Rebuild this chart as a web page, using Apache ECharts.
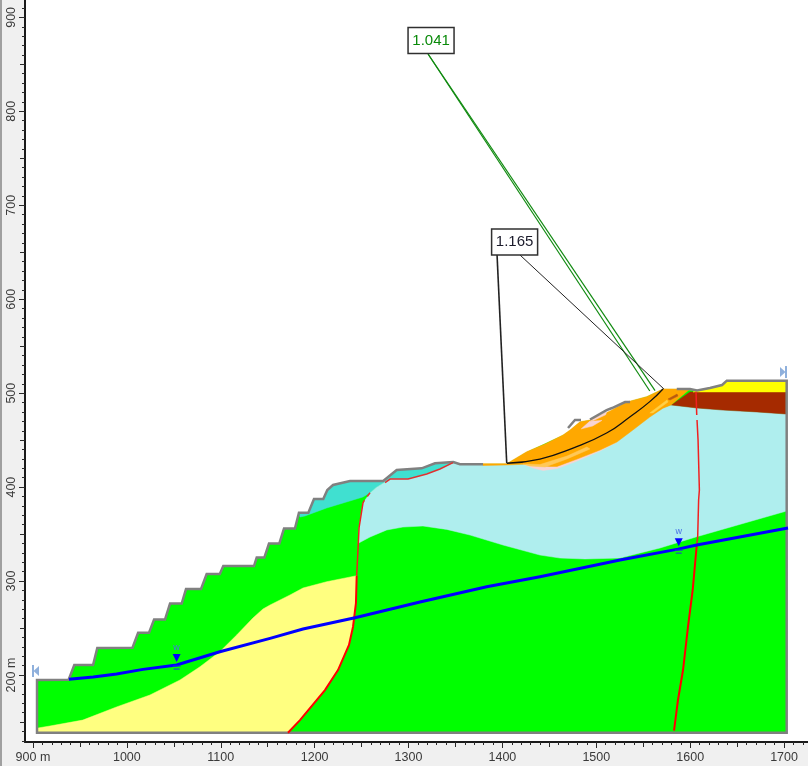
<!DOCTYPE html>
<html>
<head>
<meta charset="utf-8">
<title>slope</title>
<style>
  html, body {margin: 0; padding: 0; background: #f0f0f0;}
  #main {width: 808px; height: 766px;}
</style>
<script src="https://cdn.jsdelivr.net/npm/echarts@6/dist/echarts.min.js"></script>
</head>
<body>
<div id="main"></div>
<script>
// axis ticks (metres)
var xMajorTicks = [900, 1000, 1100, 1200, 1300, 1400, 1500, 1600, 1700];
var yMajorTicks = [200, 300, 400, 500, 600, 700, 800, 900];
var xMidTicks = [950, 1050, 1150, 1250, 1350, 1450, 1550, 1650];
var yMidTicks = [150, 250, 350, 450, 550, 650, 750, 850];

// material zones [x, y]
var terrain = [[904.3,138.6],[904.3,194.7],[938,195],[944,210.6],[964,210.6],[968.5,228.7],[1006,229],[1012,245],[1023.6,245],[1029,259],[1040.6,259],[1046,276],[1058.4,276],[1063,291.5],[1079,291.5],[1085,307.5],[1099,307.5],[1102.7,316],[1135.4,316],[1138.3,325],[1146.4,325],[1151.4,340],[1162.4,340],[1167.4,356],[1179,356],[1183.3,372.8],[1193.3,372.8],[1199.3,387.4],[1209.2,387.4],[1213.5,397],[1219.6,402.3],[1237.7,406.5],[1273,406.5],[1287.4,418.2],[1314,420],[1328.2,425.3],[1347.7,426.7],[1354.8,424.3],[1404.6,424.3],[1425.9,437],[1464.6,455],[1472,460],[1482.7,469],[1493.3,471],[1514.6,480],[1532.4,490],[1553.7,496],[1571,504],[1586,504],[1596.6,503.4],[1607.3,502.6],[1621,505.8],[1633.6,508.7],[1639.3,513.3],[1702.8,513.3],[1702.8,138.6]];
var lowerSand = [[905.3,143.6],[918,145.7],[953,152],[989,166],[1024.6,178.7],[1056.6,194.7],[1077.9,208.8],[1099,224.8],[1117,242.6],[1134.3,260.7],[1145,270.3],[1152.5,274.5],[1173.8,285.2],[1187.6,292.6],[1212.8,299.3],[1244.8,305.7],[1244,276.6],[1240.9,251.4],[1236.6,232],[1224.9,205.3],[1211,184],[1184.4,152],[1171.6,138.6],[905.3,138.6]];
var tealZone = [[1184.4,368.2],[1183.3,372.8],[1193.3,372.8],[1199.3,387.4],[1209.2,387.4],[1213.5,397],[1219.6,402.3],[1237.7,406.5],[1273,406.5],[1287.4,418.2],[1314,420],[1328.2,425.3],[1347.7,426.7],[1333.5,419.3],[1319.4,414],[1299.5,408.6],[1280.3,408.6],[1265.4,399.4],[1259,394],[1251.5,389.5],[1212.8,377.8],[1189.7,369.3]];
var cyanZone = [[1246.5,340.2],[1247.3,356.5],[1251.5,383.1],[1259,393.7],[1265.4,399.4],[1280.3,408.6],[1299.5,408.6],[1319.4,414],[1333.5,419.3],[1347.4,426],[1354.8,423.5],[1404.9,424.5],[1440,430],[1480,440],[1520,460],[1557,480],[1579.6,487.4],[1607.3,484.2],[1635,482],[1671.2,480],[1702.8,477.8],[1702.8,374.6],[1607,347.2],[1567.9,335.2],[1546.6,329.9],[1525.3,324.5],[1488,323.5],[1461.4,324.5],[1440,327.7],[1400.6,338.4],[1365.5,349],[1340.7,355],[1315.4,358.6],[1294,357.5],[1276.8,354.4],[1259,346.9]];
var brownZone = [[1580,487.4],[1599.8,501.3],[1702,501.3],[1702,477.8],[1671.2,480],[1635,482],[1607.3,484.2]];
var topFill = [[1603,501.3],[1607.3,502.6],[1621,505.6],[1634,508.7],[1639,513],[1702,513],[1702,501.3]];

// failed mass
var orangeMass = [[1379.3,425],[1404.6,425],[1425.9,437.7],[1445.4,445.9],[1464.6,455.5],[1472,460.8],[1482.7,469.6],[1493.3,471.4],[1514.6,481],[1532.4,490.6],[1553.7,496.3],[1571,504.5],[1599.8,504.4],[1579.6,487.4],[1571,484],[1557,474.6],[1539,460.8],[1522,448],[1504,439.5],[1479.5,429.8],[1458.2,422],[1450.7,422],[1422,424.3],[1404.9,423.6],[1379.3,423]];
var pinkBelow = [[1422,424.5],[1432.6,420.4],[1443.3,417.7],[1458.2,419.8],[1479.5,427.8],[1504,438.4],[1522,448],[1504,442],[1470,428]];
var pinkPatchA = [[1484,462],[1493,470],[1506,471],[1496,465]];
var pinkPatchB = [[1494,471],[1511,480],[1510,477],[1497,471]];
var paleStreakA = [[1422,424.6],[1440,424],[1468.8,433],[1490,442.7],[1493.3,440.6],[1468.8,430],[1445.4,421.4],[1429.4,422.5]];
var paleStreakB = [[1557,478.9],[1575.3,492.7],[1576.4,490.6],[1560.4,478.9]];
var brownFleck = [[1576.4,493.8],[1586,499.1],[1587,497],[1578.5,492.7]];

// lines
var outlineMain = [[1585.7,504.5],[1599.8,504.4],[1607.3,502.8],[1621,505.6],[1634,508.7],[1639,513.3],[1702.8,513.3],[1702.8,138.6],[904.3,138.6],[904.3,194.7],[938,195],[944,210.6],[964,210.6],[968.5,228.7],[1006,229],[1012,245],[1023.6,245],[1029,259],[1040.6,259],[1046,276],[1058.4,276],[1063,291.5],[1079,291.5],[1085,307.5],[1099,307.5],[1102.7,316],[1135.4,316],[1138.3,325],[1146.4,325],[1151.4,340],[1162.4,340],[1167.4,356],[1179,356],[1183.3,372.8],[1193.3,372.8],[1199.3,387.4],[1209.2,387.4],[1213.5,397],[1219.6,402.3],[1237.7,406.5],[1273,406.5],[1287.4,418.2],[1314,420],[1328.2,425.3],[1347.7,426.7],[1354.8,424.3],[1379.3,424.3]];
var outlineA = [[1469.9,462.9],[1477.3,471.4],[1483.7,471.4]];
var outlineB = [[1493.3,472],[1511,482],[1516.8,484.2],[1530.6,490.6],[1536,490.6]];
var redLeftLower = [[1171.6,138.6],[1184.4,152],[1211,184],[1224.9,205.3],[1236.6,232],[1240.9,251.4],[1244,276.6],[1244.8,305.7]];
var redLeftMiddle = [[1244.8,305.7],[1246.5,340.2],[1247.3,356.5],[1251.5,383.1],[1253,386]];
var redLeftUpper = [[1259,394],[1256,390]];
var redTop = [[1275,404.7],[1280.3,408.6],[1299.5,408.6],[1319.4,414],[1333.5,419.3],[1347.4,426]];
var redRightLower = [[1582.8,140.7],[1587,173.4],[1592.4,205.3],[1597.7,251.4],[1602.7,290.5],[1607,338.4]];
var redRightMiddle = [[1607,338.4],[1608,347.2],[1609,386.3],[1609.8,397],[1608.4,450],[1607.3,471.4]];
var redRightUpper = [[1607,476.8],[1606.2,501.6]];
var waterTable = [[938.3,195.4],[964.2,197.9],[989,201],[1017.2,206],[1053,210.6],[1099,224.8],[1152.5,239],[1187.6,249],[1243,261],[1312.2,277.7],[1383.3,294],[1440,304.6],[1525.3,322.4],[1587,334],[1607,338.4],[1704.2,356.5]];
var slipSurface = [[1404.6,425.4],[1440,429.9],[1475.2,441.6],[1511,457.6],[1536,475],[1557,491],[1571,504.5]];

// factor of safety callouts
var greenLeaderA = [[1320.8,861],[1557,502.3]];
var greenLeaderB = [[1320.8,861],[1562.6,502.8]];
var blackLeaderA = [[1394.3,647],[1404.6,425.7]];
var blackLeaderB = [[1418.8,647],[1572,504.5]];
var fosLabels = [[1324, 875.4, '1.041', '#0a8a0a'], [1413, 661, '1.165', '#1a1a2a']];
var waterMarks = [[1053, 210.6], [1587.8, 334]];
var sideMarks = [[902.7, 204.3, 1], [1699.4, 522.5, -1]];

function steps(from, to, step) {
  var out = [];
  for (var v = from; v <= to; v += step) out.push(v);
  return out;
}
var xMinorTicks = steps(900, 1720, 10);
var yMinorTicks = steps(130, 910, 10);

var labelStyle = {color: '#3a3a3a', fontSize: 12.5, fontFamily: 'Liberation Sans'};
var xRange = {min: 891.5, max: 1725.5, position: 'bottom'};
var yRange = {min: 128.7, max: 918.5, position: 'left'};

function tickAxis(range, ticks, len, width) {
  return {
    type: 'value', min: range.min, max: range.max, position: range.position, splitLine: {show: false},
    axisLine: {show: false, onZero: false},
    axisTick: {show: true, length: len, customValues: ticks, lineStyle: {color: '#2a2a2a', width: width}},
    axisLabel: {show: false}
  };
}
function labelAxis(range, ticks, rotate, margin, formatter) {
  var ax = tickAxis(range, ticks, 6, 1);
  ax.axisLine = {show: true, onZero: false, lineStyle: {color: '#1a1a1a', width: 2}};
  ax.axisLabel = {show: true, customValues: ticks, rotate: rotate, margin: margin, formatter: formatter,
    color: labelStyle.color, fontSize: labelStyle.fontSize, fontFamily: labelStyle.fontFamily,
    showMinLabel: true, showMaxLabel: true, hideOverlap: false};
  return ax;
}

function poly(points, color) {
  return {
    type: 'custom', silent: true, animation: false, data: points, encode: {x: 0, y: 1},
    renderItem: function (params, api) {
      if (params.dataIndex !== 0) return;
      return {type: 'polygon', shape: {points: points.map(function (p) { return api.coord(p); })},
        style: {fill: color, stroke: color, lineWidth: 0.5}};
    }
  };
}
function polyline(points, color, width, smooth) {
  return {
    type: 'line', silent: true, animation: false, data: points, showSymbol: false, symbol: 'none',
    smooth: !!smooth, lineStyle: {color: color, width: width, join: 'miter'}
  };
}

var series = [
  poly(terrain, '#00ff00'),
  poly(lowerSand, '#ffff80'),
  poly(tealZone, '#40e0d0'),
  poly(cyanZone, '#afeeee'),
  poly(brownZone, '#a52a00'),
  poly(topFill, '#ffff00'),
  poly(pinkBelow, '#f8d4d4'),
  poly(orangeMass, '#ffa800'),
  poly(paleStreakA, '#ffc858'),
  poly(paleStreakB, '#ffd048'),
  poly(brownFleck, '#b85a10'),
  poly(pinkPatchA, '#f8d4d4'),
  poly(pinkPatchB, '#f8d4d4'),
  polyline(outlineMain, '#808080', 2.5),
  polyline(outlineA, '#808080', 2.5),
  polyline(outlineB, '#808080', 2.5),
  polyline(redLeftLower, '#ff0000', 2),
  polyline(redLeftMiddle, '#f02020', 1.5),
  polyline(redLeftUpper, '#e03030', 1.5),
  polyline(redTop, '#e03030', 1.5),
  polyline(redRightLower, '#ff0000', 2),
  polyline(redRightMiddle, '#f02020', 1.5),
  polyline(redRightUpper, '#f02020', 1.5),
  polyline(waterTable, '#0000ff', 3),
  polyline(slipSurface, '#111111', 1.3, true),
  polyline(greenLeaderA, '#108a10', 1.2),
  polyline(greenLeaderB, '#108a10', 1.2),
  polyline(blackLeaderA, '#222222', 1.6),
  polyline(blackLeaderB, '#222222', 1),
  {
    type: 'custom', silent: true, animation: false, data: waterMarks, encode: {x: 0, y: 1},
    renderItem: function (params, api) {
      var c = api.coord([api.value(0), api.value(1)]);
      return {type: 'group', children: [
        {type: 'polygon', shape: {points: [[c[0] - 4, c[1] - 11], [c[0] + 4, c[1] - 11], [c[0], c[1] - 3]]}, style: {fill: '#0000ff'}},
        {type: 'line', shape: {x1: c[0] - 4, y1: c[1] + 1, x2: c[0] + 4, y2: c[1] + 1}, style: {stroke: '#2030e0', lineWidth: 1}},
        {type: 'line', shape: {x1: c[0] - 3, y1: c[1] + 4, x2: c[0] + 3, y2: c[1] + 4}, style: {stroke: '#2030e0', lineWidth: 1}},
        {type: 'text', x: c[0], y: c[1] - 18, style: {text: 'w', fill: '#4a70e8', fontSize: 9, fontFamily: 'Liberation Sans', align: 'center', verticalAlign: 'middle'}}
      ]};
    }
  },
  {
    type: 'custom', silent: true, animation: false, data: sideMarks, encode: {x: 0, y: 1},
    renderItem: function (params, api) {
      var c = api.coord([api.value(0), api.value(1)]), d = api.value(2);
      return {type: 'group', children: [
        {type: 'rect', shape: {x: d > 0 ? c[0] - 3.5 : c[0] + 1.5, y: c[1] - 6, width: 2, height: 12}, style: {fill: '#8fb0dc'}},
        {type: 'polygon', shape: {points: [[c[0] + 3.5 * d, c[1] - 5], [c[0] + 3.5 * d, c[1] + 5], [c[0] - 2 * d, c[1]]]}, style: {fill: '#8fb0dc'}}
      ]};
    }
  },
  {
    type: 'custom', silent: true, animation: false, data: fosLabels, encode: {x: 0, y: 1},
    renderItem: function (params, api) {
      var row = fosLabels[params.dataIndex];
      var c = api.coord([row[0], row[1]]);
      return {type: 'group', children: [
        {type: 'rect', shape: {x: c[0] - 23, y: c[1] - 13, width: 46, height: 26}, style: {fill: '#ffffff', stroke: '#303030', lineWidth: 1.5}},
        {type: 'text', x: c[0], y: c[1], style: {text: row[2], fill: row[3], fontSize: 15, fontFamily: 'Liberation Sans', align: 'center', verticalAlign: 'middle'}}
      ]};
    }
  }
];
series.forEach(function (s, i) { s.z = 2 + i; });

var chart = echarts.init(document.getElementById('main'));
chart.setOption({
  backgroundColor: '#f0f0f0',
  animation: false,
  grid: {left: 25, top: 0, right: 0, bottom: 24, show: true, backgroundColor: '#ffffff', borderWidth: 0},
  graphic: [{type: 'rect', left: 0, top: 0, shape: {width: 2, height: 766}, style: {fill: '#a0a0a0'}}],
  xAxis: [
    labelAxis(xRange, xMajorTicks, 0, 9, function (v) { return v === 900 ? '900 m' : String(v); }),
    tickAxis(xRange, xMidTicks, 5, 1),
    tickAxis(xRange, xMinorTicks, 3, 1)
  ],
  yAxis: [
    labelAxis(yRange, yMajorTicks, 90, 7, function (v) { return v === 200 ? '200 m' : String(v); }),
    tickAxis(yRange, yMidTicks, 5, 1),
    tickAxis(yRange, yMinorTicks, 3, 1)
  ],
  series: series
});
</script>
</body>
</html>
